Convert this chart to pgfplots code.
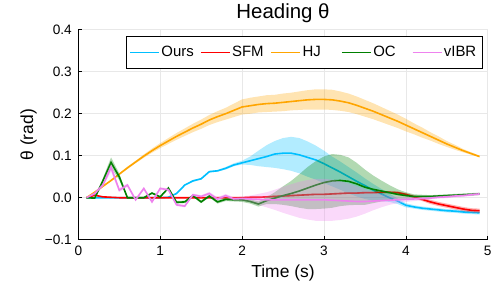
\documentclass[border=0pt]{standalone}
\usepackage{fontspec}
\setmainfont{Liberation Sans}
\usepackage{pgfplots}
\usepackage{pgfplotstable}
\pgfplotsset{compat=1.18}

\definecolor{cOurs}{RGB}{0,191,255}
\definecolor{cSFM}{RGB}{255,0,0}
\definecolor{cHJ}{RGB}{255,165,0}
\definecolor{cOC}{RGB}{0,128,0}
\definecolor{cIBR}{RGB}{238,130,238}
\definecolor{gridc}{RGB}{232,232,232}

\pgfplotstableread{
t m dl du
0.1 0.000 0.000 0.000
0.2 0.000 0.001 0.001
0.3 0.000 0.001 0.001
0.4 0.000 0.001 0.001
0.5 0.000 0.001 0.001
0.6 0.000 0.001 0.001
0.7 0.000 0.001 0.001
0.8 0.000 0.001 0.001
0.9 0.000 0.001 0.001
1.0 0.000 0.001 0.001
1.1 0.001 0.001 0.001
1.2 0.010 0.001 0.001
1.3 0.030 0.001 0.001
1.4 0.040 0.002 0.002
1.5 0.045 0.002 0.002
1.6 0.062 0.002 0.002
1.7 0.064 0.002 0.002
1.8 0.070 0.003 0.003
1.9 0.078 0.003 0.004
2.0 0.083 0.004 0.005
2.1 0.088 0.010 0.010
2.2 0.093 0.018 0.019
2.3 0.098 0.025 0.027
2.4 0.104 0.033 0.031
2.5 0.106 0.038 0.036
2.6 0.106 0.042 0.039
2.7 0.102 0.044 0.040
2.8 0.096 0.046 0.038
2.9 0.090 0.047 0.034
3.0 0.081 0.046 0.031
3.1 0.071 0.044 0.027
3.2 0.061 0.042 0.025
3.3 0.050 0.040 0.023
3.4 0.039 0.036 0.021
3.5 0.029 0.032 0.017
3.6 0.018 0.025 0.015
3.7 0.009 0.017 0.012
3.8 0.000 0.010 0.010
3.9 -0.008 0.007 0.006
4.0 -0.018 0.005 0.005
4.1 -0.022 0.004 0.004
4.2 -0.025 0.004 0.004
4.3 -0.027 0.004 0.004
4.4 -0.029 0.004 0.004
4.5 -0.031 0.004 0.004
4.6 -0.032 0.004 0.004
4.7 -0.034 0.004 0.004
4.8 -0.035 0.004 0.004
4.9 -0.036 0.004 0.004
}\ours

\pgfplotstableread{
t m dl du
0.1 0.000 0.000 0.000
0.2 0.006 0.002 0.002
0.3 0.002 0.001 0.001
0.4 0.001 0.001 0.001
0.5 0.000 0.001 0.001
0.6 0.000 0.001 0.001
0.7 0.000 0.001 0.001
0.8 0.000 0.001 0.001
0.9 0.000 0.001 0.001
1.0 0.000 0.001 0.001
1.1 0.000 0.001 0.001
1.2 0.000 0.001 0.001
1.3 0.000 0.001 0.001
1.4 0.000 0.001 0.001
1.5 0.000 0.001 0.001
1.6 0.000 0.001 0.001
1.7 0.000 0.001 0.001
1.8 0.000 0.001 0.001
1.9 0.000 0.001 0.001
2.0 0.000 0.002 0.002
2.1 0.001 0.002 0.002
2.2 0.001 0.002 0.002
2.3 0.002 0.002 0.002
2.4 0.003 0.002 0.002
2.5 0.004 0.002 0.002
2.6 0.005 0.002 0.002
2.7 0.006 0.002 0.002
2.8 0.007 0.002 0.002
2.9 0.008 0.002 0.002
3.0 0.008 0.002 0.002
3.1 0.009 0.002 0.002
3.2 0.010 0.002 0.002
3.3 0.011 0.002 0.002
3.4 0.011 0.002 0.002
3.5 0.012 0.002 0.002
3.6 0.012 0.002 0.002
3.7 0.013 0.002 0.002
3.8 0.013 0.002 0.002
3.9 0.012 0.003 0.003
4.0 0.008 0.003 0.003
4.1 0.002 0.004 0.004
4.2 -0.004 0.004 0.004
4.3 -0.010 0.005 0.005
4.4 -0.015 0.005 0.005
4.5 -0.019 0.005 0.005
4.6 -0.023 0.005 0.005
4.7 -0.027 0.005 0.005
4.8 -0.030 0.005 0.005
4.9 -0.031 0.005 0.005
}\sfm

\pgfplotstableread{
t m dl du
0.1 0.000 0.000 0.000
0.2 0.013 0.001 0.001
0.3 0.027 0.001 0.001
0.4 0.041 0.002 0.002
0.5 0.056 0.002 0.002
0.6 0.071 0.003 0.003
0.7 0.085 0.003 0.003
0.8 0.099 0.004 0.004
0.9 0.112 0.005 0.005
1.0 0.124 0.006 0.006
1.1 0.135 0.007 0.007
1.2 0.146 0.008 0.008
1.3 0.156 0.009 0.009
1.4 0.166 0.010 0.010
1.5 0.175 0.011 0.011
1.6 0.185 0.012 0.012
1.7 0.193 0.013 0.013
1.8 0.200 0.014 0.014
1.9 0.208 0.016 0.016
2.0 0.216 0.018 0.018
2.1 0.219 0.019 0.019
2.2 0.222 0.019 0.019
2.3 0.224 0.020 0.020
2.4 0.225 0.020 0.020
2.5 0.227 0.021 0.021
2.6 0.229 0.021 0.021
2.7 0.231 0.022 0.022
2.8 0.233 0.023 0.023
2.9 0.234 0.024 0.024
3.0 0.234 0.024 0.024
3.1 0.233 0.024 0.024
3.2 0.230 0.023 0.023
3.3 0.226 0.022 0.022
3.4 0.220 0.021 0.021
3.5 0.213 0.020 0.020
3.6 0.206 0.019 0.019
3.7 0.198 0.018 0.018
3.8 0.190 0.017 0.017
3.9 0.182 0.016 0.016
4.0 0.173 0.015 0.015
4.1 0.164 0.013 0.013
4.2 0.155 0.012 0.012
4.3 0.146 0.010 0.010
4.4 0.137 0.009 0.009
4.5 0.128 0.007 0.007
4.6 0.120 0.006 0.006
4.7 0.112 0.004 0.004
4.8 0.105 0.003 0.003
4.9 0.098 0.002 0.002
}\hj

\pgfplotstableread{
t m dl du
0.1 0.000 0.000 0.000
0.2 -0.001 0.002 0.002
0.3 0.040 0.006 0.006
0.4 0.084 0.012 0.012
0.5 0.050 0.008 0.008
0.6 0.000 0.002 0.002
0.7 0.000 0.001 0.001
0.8 0.000 0.001 0.001
0.9 0.011 0.002 0.002
1.0 0.002 0.002 0.002
1.1 0.023 0.002 0.002
1.2 -0.011 0.003 0.003
1.3 -0.010 0.003 0.003
1.4 0.005 0.003 0.003
1.5 -0.010 0.003 0.003
1.6 0.004 0.003 0.003
1.7 -0.010 0.004 0.004
1.8 -0.004 0.004 0.004
1.9 -0.005 0.004 0.004
2.0 -0.005 0.005 0.005
2.1 -0.009 0.005 0.005
2.2 -0.015 0.006 0.006
2.3 -0.007 0.008 0.008
2.4 -0.001 0.014 0.014
2.5 0.005 0.022 0.022
2.6 0.010 0.030 0.030
2.7 0.016 0.040 0.040
2.8 0.023 0.050 0.050
2.9 0.030 0.057 0.057
3.0 0.036 0.062 0.062
3.1 0.040 0.064 0.064
3.2 0.041 0.061 0.061
3.3 0.039 0.057 0.057
3.4 0.033 0.050 0.050
3.5 0.025 0.042 0.042
3.6 0.020 0.033 0.033
3.7 0.016 0.025 0.025
3.8 0.012 0.018 0.018
3.9 0.008 0.012 0.012
4.0 0.005 0.008 0.008
4.1 0.003 0.005 0.005
4.2 0.003 0.004 0.004
4.3 0.003 0.003 0.003
4.4 0.004 0.003 0.003
4.5 0.005 0.003 0.003
4.6 0.006 0.003 0.003
4.7 0.007 0.003 0.003
4.8 0.008 0.003 0.003
4.9 0.009 0.003 0.003
}\oc

\pgfplotstableread{
t m dl du
0.1 0.000 0.000 0.000
0.2 0.010 0.003 0.003
0.3 0.030 0.005 0.005
0.4 0.072 0.010 0.010
0.5 0.018 0.005 0.005
0.6 0.030 0.004 0.004
0.7 -0.005 0.003 0.003
0.8 0.022 0.003 0.003
0.9 -0.010 0.003 0.003
1.0 0.022 0.003 0.003
1.1 0.019 0.003 0.003
1.2 -0.017 0.003 0.003
1.3 -0.020 0.003 0.003
1.4 0.007 0.003 0.003
1.5 0.003 0.003 0.003
1.6 0.010 0.004 0.004
1.7 -0.003 0.004 0.004
1.8 0.005 0.004 0.004
1.9 -0.003 0.004 0.004
2.0 -0.002 0.005 0.005
2.1 -0.003 0.008 0.008
2.2 -0.004 0.013 0.013
2.3 -0.005 0.018 0.018
2.4 -0.005 0.024 0.024
2.5 -0.005 0.031 0.031
2.6 -0.005 0.037 0.037
2.7 -0.005 0.043 0.043
2.8 -0.005 0.047 0.047
2.9 -0.005 0.050 0.050
3.0 -0.005 0.050 0.050
3.1 -0.006 0.049 0.049
3.2 -0.007 0.046 0.046
3.3 -0.008 0.042 0.042
3.4 -0.009 0.036 0.036
3.5 -0.009 0.029 0.029
3.6 -0.008 0.022 0.022
3.7 -0.007 0.016 0.016
3.8 -0.006 0.011 0.011
3.9 -0.005 0.008 0.008
4.0 -0.004 0.006 0.006
4.1 -0.003 0.005 0.005
4.2 -0.002 0.004 0.004
4.3 -0.001 0.003 0.003
4.4 0.001 0.003 0.003
4.5 0.002 0.003 0.003
4.6 0.004 0.003 0.003
4.7 0.005 0.003 0.003
4.8 0.007 0.003 0.003
4.9 0.009 0.003 0.003
}\ibr

% band = lower curve (stacked, invisible), then width stacked and filled, then stack reset
\newcommand{\band}[2]{%
  \addplot[draw=none, forget plot, stack plots=y] table[x=t, y expr=\thisrow{m}-\thisrow{dl}] {#1};
  \addplot[draw=none, fill=#2, fill opacity=0.3, forget plot, stack plots=y] table[x=t, y expr=\thisrow{dl}+\thisrow{du}] {#1} \closedcycle;
  \addplot[draw=none, forget plot, stack plots=y] table[x=t, y expr=-(\thisrow{m}+\thisrow{du})] {#1};
  \addplot[#2, line width=1.6bp] table[x=t, y=m] {#1};
}
\newcommand{\lentry}[1]{\makebox[34bp][l]{#1}}

\begin{document}
\begin{tikzpicture}
\useasboundingbox (-78.3bp,-60.3bp) rectangle (421.7bp,239.7bp);
\begin{axis}[
  at={(0,0)}, anchor=south west,
  scale only axis,
  width=409.4bp, height=210bp,
  xmin=0, xmax=5, ymin=-0.1, ymax=0.4,
  axis lines=left,
  axis line style={-, line width=0.8bp, black},
  xtick={0,1,2,3,4,5},
  xticklabels={0,1,2,3,4,5},
  ytick={-0.1,0,0.1,0.2,0.3,0.4},
  yticklabels={−0.1,0.0,0.1,0.2,0.3,0.4},
  tick align=inside,
  major tick length=4bp,
  tick style={black, line width=0.6bp},
  tick label style={font=\fontsize{13.7}{15}\selectfont},
  xticklabel style={yshift=-3bp},
  yticklabel style={xshift=-3bp},
  grid=major,
  grid style={gridc, line width=0.6bp},
  every axis title shift=0pt,
  title={Heading θ},
  title style={font=\fontsize{20.5}{24}\selectfont, at={(0.5,1)}, anchor=base, yshift=11.4bp},
  xlabel={Time (s)},
  ylabel={θ (rad)},
  label style={font=\fontsize{17.5}{20}\selectfont},
  xlabel style={at={(axis description cs:0.5,0)}, anchor=base, yshift=-37.8bp},
  ylabel style={at={(axis description cs:-0.1104,0.5)}, anchor=base},
  legend columns=5,
  legend cell align=left,
  legend image code/.code={\draw[#1] (0bp,0bp) -- (29bp,0bp);},
  legend style={at={(0.1165,0.97)}, anchor=north west, draw=black, line width=0.8bp,
    font=\fontsize{15}{17}\selectfont, inner xsep=3bp, inner ysep=7bp,
    nodes={inner xsep=1.5bp, inner ysep=3bp},
    /tikz/every even column/.append style={column sep=3bp}},
]
\band{\ours}{cOurs}
\addlegendentry{\lentry{Ours}}
\band{\sfm}{cSFM}
\addlegendentry{\lentry{SFM}}
\band{\hj}{cHJ}
\addlegendentry{\lentry{HJ}}
\band{\oc}{cOC}
\addlegendentry{\lentry{OC}}
\band{\ibr}{cIBR}
\addlegendentry{\lentry{vIBR}}
\end{axis}
\end{tikzpicture}
\end{document}
